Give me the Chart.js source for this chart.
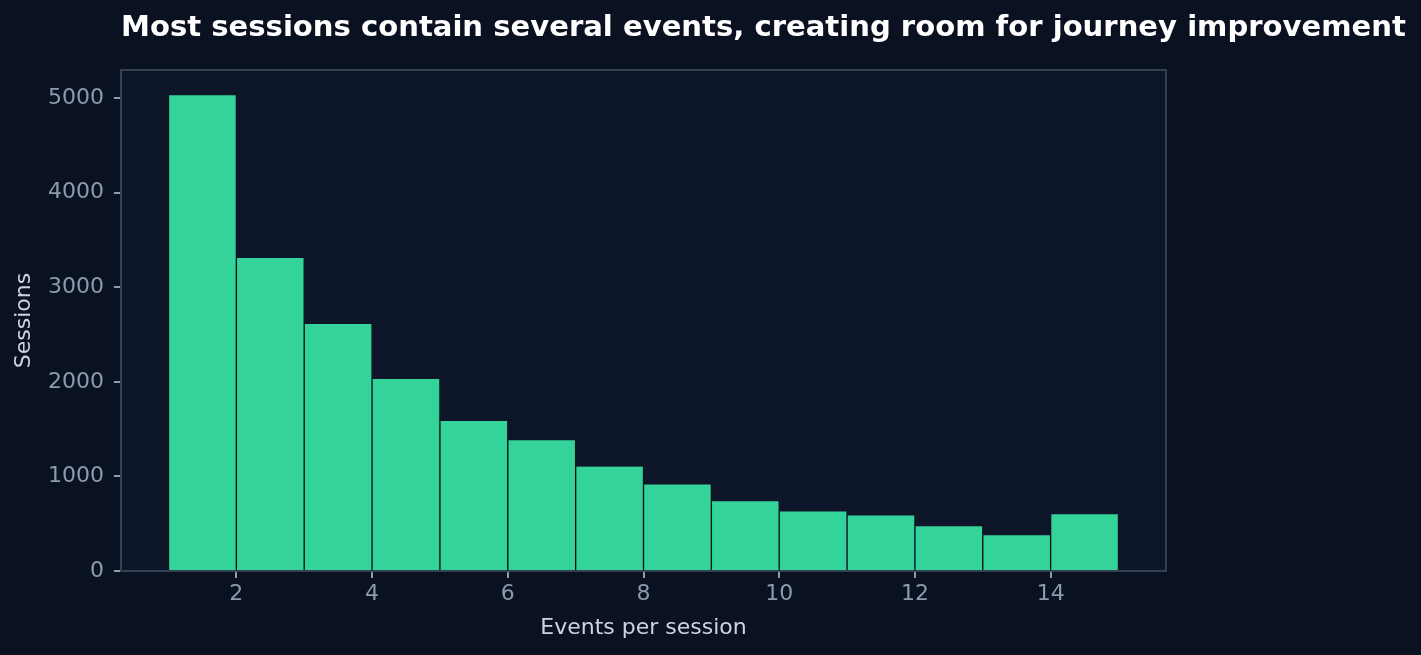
<!DOCTYPE html>
<html>
<head>
<meta charset="utf-8">
<script src="https://cdn.jsdelivr.net/npm/chart.js@4.4.1/dist/chart.umd.min.js"></script>
<style>
  html, body { margin: 0; padding: 0; background: #0a1120; }
  #wrap { width: 1421px; height: 655px; position: relative; }
</style>
</head>
<body>
<div id="wrap"><canvas id="histChart"></canvas></div>
<script>
// Histogram data (bins of width 1, from 1 to 15)
const binStarts = [1, 2, 3, 4, 5, 6, 7, 8, 9, 10, 11, 12, 13, 14];
const sessions = [5030, 3310, 2610, 2030, 1586, 1382, 1105, 915, 736, 630, 588, 472, 377, 599];
const xTickValues = [2, 4, 6, 8, 10, 12, 14];
const yTickValues = [0, 1000, 2000, 3000, 4000, 5000];

const titleText = 'Most sessions contain several events, creating room for journey improvement';

const FIG_BG = '#0a1120';
const AX_BG = '#0c1628';
const SPINE = '#334155';
const TICK_TXT = '#8b9bb0';
const LABEL_TXT = '#cbd5e1';
const BAR = '#34d399';

const histData = {
    datasets: [{
        label: 'Sessions',
        data: binStarts.map((b, i) => ({ x: b + 0.5, y: sessions[i] })),
        backgroundColor: BAR,
        borderColor: FIG_BG,
        borderWidth: { left: 1, right: 1, top: 0, bottom: 0 },
        barPercentage: 1,
        categoryPercentage: 1
    }]
};

// background, spines and title
const framePlugin = {
    id: 'frame',
    beforeDraw(chart) {
        const { ctx, chartArea: a } = chart;
        ctx.save();
        ctx.fillStyle = FIG_BG;
        ctx.fillRect(0, 0, chart.width, chart.height);
        ctx.fillStyle = AX_BG;
        ctx.fillRect(a.left, a.top, a.right - a.left, a.bottom - a.top);
        // title fitted to span from the axes' left edge to x=1406
        ctx.font = 'bold 30px "DejaVu Sans"';
        const w = ctx.measureText(titleText).width;
        const size = 30 * (1406 - a.left) / w;
        ctx.font = 'bold ' + size.toFixed(2) + 'px "DejaVu Sans"';
        ctx.fillStyle = '#ffffff';
        ctx.textBaseline = 'middle';
        ctx.textAlign = 'left';
        ctx.fillText(titleText, a.left, 28);
        ctx.restore();
    },
    afterDraw(chart) {
        const { ctx, chartArea: a } = chart;
        ctx.save();
        ctx.strokeStyle = SPINE;
        ctx.lineWidth = 2;
        ctx.strokeRect(a.left, a.top, a.right - a.left, a.bottom - a.top);
        ctx.restore();
    }
};

const config = {
    type: 'bar',
    data: histData,
    options: {
        responsive: true,
        maintainAspectRatio: false,
        animation: false,
        layout: { padding: { top: 70, right: 255, left: 0, bottom: 0 } },
        plugins: {
            legend: { display: false },
            tooltip: { enabled: false }
        },
        scales: {
            x: {
                type: 'linear',
                min: 0.3,
                max: 15.7,
                offset: false,
                afterBuildTicks: s => { s.ticks = xTickValues.map(v => ({ value: v })); },
                afterFit: s => { s.height = 84; },
                grid: { offset: false, drawOnChartArea: false, drawTicks: true, tickLength: 7, color: TICK_TXT, lineWidth: 2 },
                border: { display: true, color: SPINE, width: 2 },
                ticks: { color: TICK_TXT, font: { family: 'DejaVu Sans', size: 22 }, padding: 3, maxRotation: 0, callback: v => String(v) },
                title: { display: true, text: 'Events per session', color: LABEL_TXT, font: { family: 'DejaVu Sans', size: 22 }, padding: { top: 0, bottom: 14 } }
            },
            y: {
                min: 0,
                max: 5296,
                afterBuildTicks: s => { s.ticks = yTickValues.map(v => ({ value: v })); },
                afterFit: s => { s.width = 121; },
                grid: { drawOnChartArea: false, drawTicks: true, tickLength: 7, color: TICK_TXT, lineWidth: 2 },
                border: { display: true, color: SPINE, width: 2 },
                ticks: { color: TICK_TXT, font: { family: 'DejaVu Sans', size: 22 }, padding: 10, callback: v => String(v) },
                title: { display: true, text: 'Sessions', color: LABEL_TXT, font: { family: 'DejaVu Sans', size: 22 }, padding: { top: 11, bottom: 0 } }
            }
        }
    },
    plugins: [framePlugin]
};

const ctx = document.getElementById('histChart').getContext('2d');
const histChart = new Chart(ctx, config);
</script>
</body>
</html>
